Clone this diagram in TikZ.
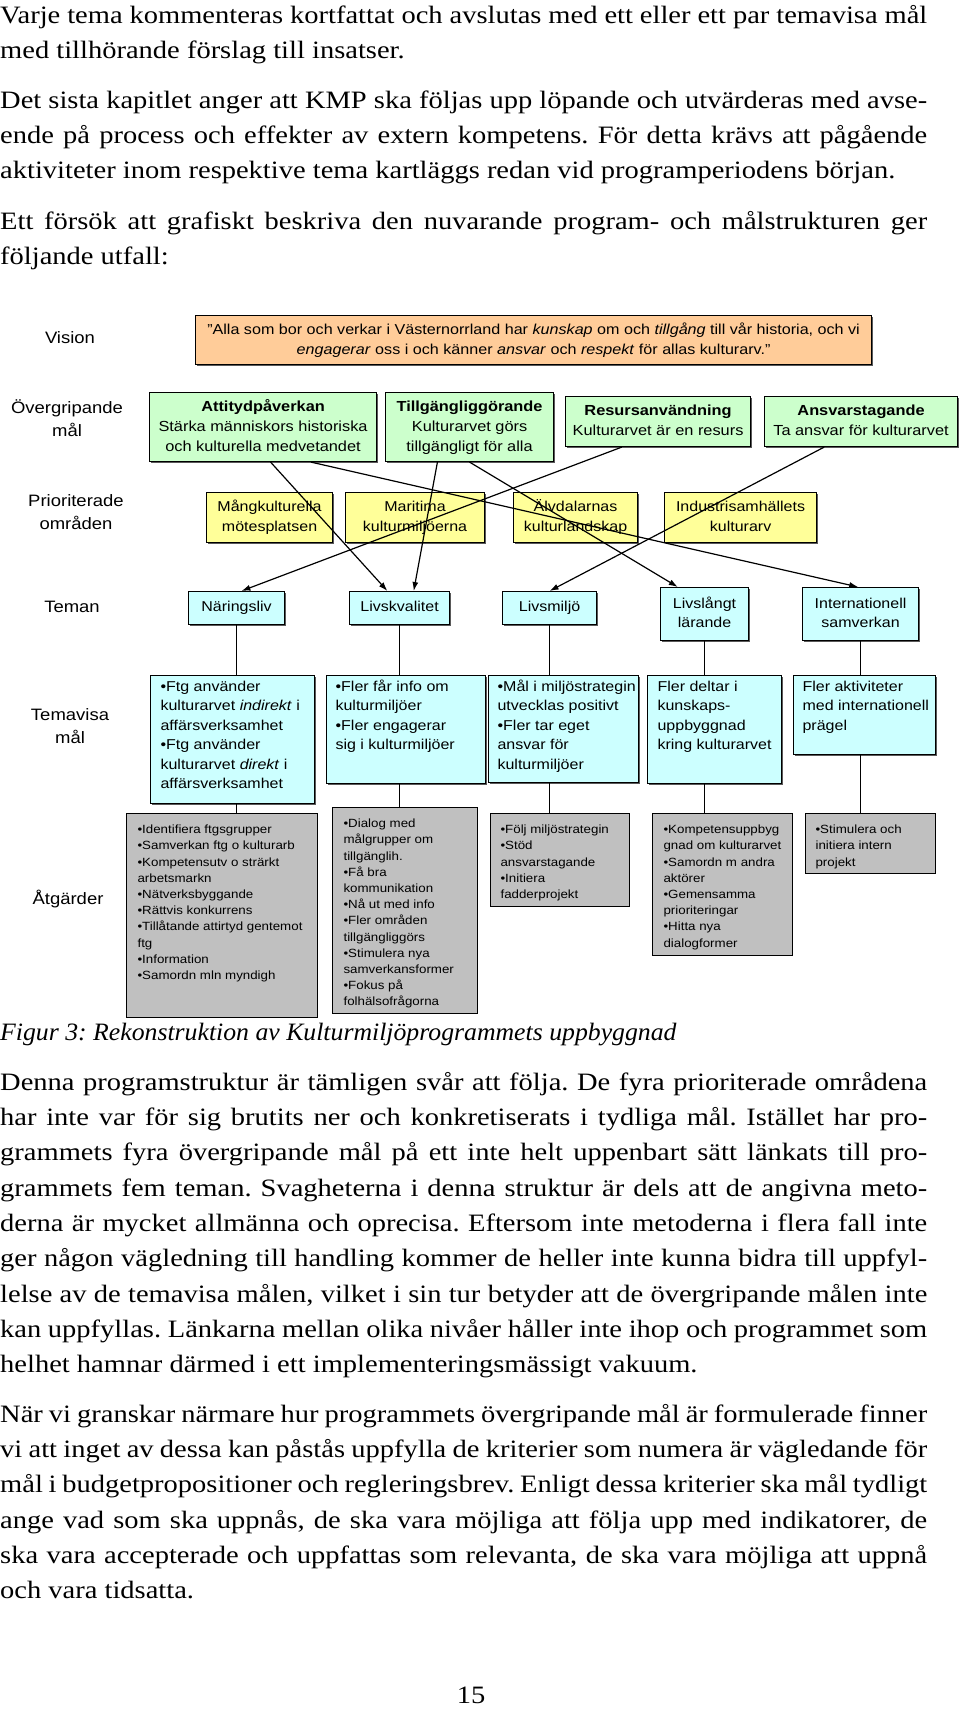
\documentclass[tikz,border=0pt]{standalone}
\usepackage{fontspec}
\setmainfont{Liberation Serif}
\newfontfamily\arialf{Liberation Sans}
\usetikzlibrary{arrows.meta,calc,shadows}
\definecolor{vis}{HTML}{FFCC99}
\definecolor{grn}{HTML}{CCFFCC}
\definecolor{yel}{HTML}{FFFF99}
\definecolor{cya}{HTML}{CCFFFF}
\definecolor{gry}{HTML}{C0C0C0}
\frenchspacing
\newcommand\bjl[1]{\scalebox{1.14}[1]{\makebox[813.2pt][s]{#1}}}
\newcommand\bll[1]{\scalebox{1.14}[1]{#1}}
\newcommand\capl[1]{\scalebox{1.03}[1]{#1}}
\newcommand\dct[1]{\scalebox{1.12}[1]{\begin{tabular}{@{}c@{}}#1\end{tabular}}}
\newcommand\dlt[1]{\scalebox{1.12}[1]{\begin{tabular}[t]{@{}l@{}}#1\end{tabular}}}
\newcommand\tlbox[5]{\parbox[c][#2][t]{#1}{\vspace*{#3}\noindent\hspace*{#4}\dlt{#5}}}
\begin{document}
\begin{tikzpicture}[x=1pt,y=-1pt,
 body/.style={anchor=base west,inner sep=0pt,font=\fontsize{25}{30}\selectfont},
 lab/.style={inner sep=0pt,font=\arialf\fontsize{16.5}{23}\selectfont},
 box/.style={draw=black,line width=1.1pt,anchor=north west,inner sep=0pt},
 shd/.style={drop shadow={shadow xshift=1.4pt,shadow yshift=-1.4pt,fill=black!65,opacity=1}},
 gfont/.style={font=\arialf\fontsize{14.6}{20}\selectfont},
 tfont/.style={font=\arialf\fontsize{14.3}{19.5}\selectfont},
 afont/.style={font=\arialf\fontsize{11.9}{16.2}\selectfont},
 conn/.style={draw=black,line width=1pt},
 arr/.style={draw=black,line width=1.2pt,-{Latex[length=9pt,width=6pt]}}]
\useasboundingbox[fill=white] (0,0) rectangle (960,1710);

% body text
\node[body] (b1) at (0,23.5) {\bjl{Varje tema kommenteras kortfattat och avslutas med ett eller ett par temavisa mål}};
\node[body] (b2) at (0,58.5) {\bll{med tillhörande förslag till insatser.}};
\node[body] (b3) at (0,108) {\bjl{Det sista kapitlet anger att KMP ska följas upp löpande och utvärderas med avse-}};
\node[body] (b4) at (0,143.3) {\bjl{ende på process och effekter av extern kompetens. För detta krävs att pågående}};
\node[body] (b5) at (0,178.6) {\bll{aktiviteter inom respektive tema kartläggs redan vid programperiodens början.}};
\node[body] (b6) at (0,229) {\bjl{Ett försök att grafiskt beskriva den nuvarande program- och målstrukturen ger}};
\node[body] (b7) at (0,264.3) {\bll{följande utfall:}};

\node[body,font=\itshape\fontsize{25}{30}\selectfont] (cap) at (0,1040) {\capl{Figur 3: Rekonstruktion av Kulturmiljöprogrammets uppbyggnad}};

\node[body] (c1) at (0,1090) {\bjl{Denna programstruktur är tämligen svår att följa. De fyra prioriterade områdena}};
\node[body] (c2) at (0,1125.35) {\bjl{har inte var för sig brutits ner och konkretiserats i tydliga mål. Istället har pro-}};
\node[body] (c3) at (0,1160.7) {\bjl{grammets fyra övergripande mål på ett inte helt uppenbart sätt länkats till pro-}};
\node[body] (c4) at (0,1196.05) {\bjl{grammets fem teman. Svagheterna i denna struktur är dels att de angivna meto-}};
\node[body] (c5) at (0,1231.4) {\bjl{derna är mycket allmänna och oprecisa. Eftersom inte metoderna i flera fall inte}};
\node[body] (c6) at (0,1266.75) {\bjl{ger någon vägledning till handling kommer de heller inte kunna bidra till uppfyl-}};
\node[body] (c7) at (0,1302.1) {\bjl{lelse av de temavisa målen, vilket i sin tur betyder att de övergripande målen inte}};
\node[body] (c8) at (0,1337.45) {\bjl{kan uppfyllas. Länkarna mellan olika nivåer håller inte ihop och programmet som}};
\node[body] (c9) at (0,1372.8) {\bll{helhet hamnar därmed i ett implementeringsmässigt vakuum.}};

\node[body] (d1) at (0,1422) {\bjl{När vi granskar närmare hur programmets övergripande mål är formulerade finner}};
\node[body] (d2) at (0,1457.35) {\bjl{vi att inget av dessa kan påstås uppfylla de kriterier som numera är vägledande för}};
\node[body] (d3) at (0,1492.7) {\bjl{mål i budgetpropositioner och regleringsbrev. Enligt dessa kriterier ska mål tydligt}};
\node[body] (d4) at (0,1528.05) {\bjl{ange vad som ska uppnås, de ska vara möjliga att följa upp med indikatorer, de}};
\node[body] (d5) at (0,1563.4) {\bjl{ska vara accepterade och uppfattas som relevanta, de ska vara möjliga att uppnå}};
\node[body] (d6) at (0,1598.75) {\bll{och vara tidsatta.}};

\node[body,anchor=base] (pnum) at (471,1703) {\bll{15}};

% row labels
\node[lab] (lvis) at (70,339) {\dct{Vision}};
\node[lab] (lover) at (67,420) {\dct{Övergripande\\mål}};
\node[lab] (lprio) at (76,513) {\dct{Prioriterade\\områden}};
\node[lab] (ltem) at (72,608) {\dct{Teman}};
\node[lab] (ltmal) at (70,727) {\dct{Temavisa\\mål}};
\node[lab] (latg) at (68,900) {\dct{Åtgärder}};

% vision
\node[box,shd,fill=vis,minimum width=676pt,minimum height=49pt,font=\arialf\fontsize{14.4}{20}\selectfont] (vision) at (195,315)
 {\dct{”Alla som bor och verkar i Västernorrland har \textit{kunskap} om och \textit{tillgång} till vår historia, och vi\\\textit{engagerar} oss i och känner \textit{ansvar} och \textit{respekt} för allas kulturarv.”}};

% overgripande mal
\node[box,shd,gfont,fill=grn,minimum width=227pt,minimum height=69pt] (att) at (149,392)
 {\dct{\textbf{Attitydpåverkan}\\Stärka människors historiska\\och kulturella medvetandet}};
\node[box,shd,gfont,fill=grn,minimum width=168pt,minimum height=69pt] (till) at (385,392)
 {\dct{\textbf{Tillgängliggörande}\\Kulturarvet görs\\tillgängligt för alla}};
\node[box,shd,gfont,fill=grn,minimum width=185pt,minimum height=50pt] (res) at (565,396)
 {\dct{\textbf{Resursanvändning}\\Kulturarvet är en resurs}};
\node[box,shd,gfont,fill=grn,minimum width=193pt,minimum height=50pt] (ans) at (764,396)
 {\dct{\textbf{Ansvarstagande}\\Ta ansvar för kulturarvet}};

% prioriterade omraden
\node[box,shd,tfont,fill=yel,minimum width=126pt,minimum height=50pt] (mang) at (206,492) {\dct{Mångkulturella\\mötesplatsen}};
\node[box,shd,tfont,fill=yel,minimum width=139pt,minimum height=50pt] (mari) at (345,492) {\dct{Maritima\\kulturmiljöerna}};
\node[box,shd,tfont,fill=yel,minimum width=124pt,minimum height=50pt] (alv) at (513,492) {\dct{Älvdalarnas\\kulturlandskap}};
\node[box,shd,tfont,fill=yel,minimum width=152pt,minimum height=50pt] (ind) at (664,492) {\dct{Industrisamhällets\\kulturarv}};

% teman
\node[box,shd,tfont,fill=cya,minimum width=96pt,minimum height=33pt] (nar) at (188,591) {\dct{Näringsliv}};
\node[box,shd,tfont,fill=cya,minimum width=100pt,minimum height=33pt] (lk) at (349,591) {\dct{Livskvalitet}};
\node[box,shd,tfont,fill=cya,minimum width=94pt,minimum height=33pt] (lm) at (502,591) {\dct{Livsmiljö}};
\node[box,shd,tfont,fill=cya,minimum width=88pt,minimum height=53pt] (ll) at (660,587) {\dct{Livslångt\\lärande}};
\node[box,shd,tfont,fill=cya,minimum width=116pt,minimum height=53pt] (intl) at (802,587) {\dct{Internationell\\samverkan}};

% temavisa mal
\node[box,shd,tfont,fill=cya] (tv1) at (150,675) {\tlbox{164pt}{128pt}{2pt}{10pt}{•Ftg använder\\kulturarvet \textit{indirekt} i\\affärsverksamhet\\•Ftg använder\\kulturarvet \textit{direkt} i\\affärsverksamhet}};
\node[box,shd,tfont,fill=cya] (tv2) at (326,675) {\tlbox{159pt}{108pt}{2pt}{9pt}{•Fler får info om\\kulturmiljöer\\•Fler engagerar\\sig i kulturmiljöer}};
\node[box,shd,tfont,fill=cya] (tv3) at (488,675) {\tlbox{150pt}{107pt}{2pt}{9pt}{•Mål i miljöstrategin\\utvecklas positivt\\•Fler tar eget\\ansvar för\\kulturmiljöer}};
\node[box,shd,tfont,fill=cya] (tv4) at (647,675) {\tlbox{134pt}{108pt}{2pt}{10pt}{Fler deltar i\\kunskaps-\\uppbyggnad\\kring kulturarvet}};
\node[box,shd,tfont,fill=cya] (tv5) at (793,675) {\tlbox{142pt}{79pt}{2pt}{9pt}{Fler aktiviteter\\med internationell\\prägel}};

% atgarder
\node[box,afont,fill=gry] (at1) at (126,813) {\tlbox{191pt}{204pt}{8.7pt}{11pt}{•Identifiera ftgsgrupper\\•Samverkan ftg o kulturarb\\•Kompetensutv o strärkt\\arbetsmarkn\\•Nätverksbyggande\\•Rättvis konkurrens\\•Tillåtande attirtyd gentemot\\ftg\\•Information\\•Samordn mln myndigh}};
\node[box,afont,fill=gry] (at2) at (332,807) {\tlbox{145pt}{206pt}{8.7pt}{11pt}{•Dialog med\\målgrupper om\\tillgänglih.\\•Få bra\\kommunikation\\•Nå ut med info\\•Fler områden\\tillgängliggörs\\•Stimulera nya\\samverkansformer\\•Fokus på\\folhälsofrågorna}};
\node[box,afont,fill=gry] (at3) at (490,813) {\tlbox{139pt}{93pt}{8.7pt}{10pt}{•Följ miljöstrategin\\•Stöd\\ansvarstagande\\•Initiera\\fadderprojekt}};
\node[box,afont,fill=gry] (at4) at (652,813) {\tlbox{140pt}{142pt}{8.7pt}{11pt}{•Kompetensuppbyg\\gnad om kulturarvet\\•Samordn m andra\\aktörer\\•Gemensamma\\prioriteringar\\•Hitta nya\\dialogformer}};
\node[box,afont,fill=gry] (at5) at (805,813) {\tlbox{130pt}{60pt}{8.7pt}{10pt}{•Stimulera och\\initiera intern\\projekt}};

% vertical connectors
\draw[conn] (nar.south) -- (nar.south |- tv1.north);
\draw[conn] (nar.south |- tv1.south) -- (nar.south |- at1.north);
\draw[conn] (lk.south) -- (lk.south |- tv2.north);
\draw[conn] (lk.south |- tv2.south) -- (lk.south |- at2.north);
\draw[conn] (lm.south) -- (lm.south |- tv3.north);
\draw[conn] (lm.south |- tv3.south) -- (lm.south |- at3.north);
\draw[conn] (ll.south) -- (ll.south |- tv4.north);
\draw[conn] (ll.south |- tv4.south) -- (ll.south |- at4.north);
\draw[conn] (intl.south) -- (intl.south |- tv5.north);
\draw[conn] (intl.south |- tv5.south) -- (intl.south |- at5.north);

% arrows
\draw[arr] ($(att.south west)!0.533!(att.south east)$) -- ($(lk.north west)!0.38!(lk.north east)$);
\draw[arr] ($(att.south west)!0.71!(att.south east)$) -- ($(intl.north west)!0.48!(intl.north east)$);
\draw[arr] ($(till.south west)!0.31!(till.south east)$) -- ($(lk.north west)!0.64!(lk.north east)$);
\draw[arr] ($(till.south west)!0.5!(till.south east)$) -- ($(ll.north west)!0.2!(ll.north east)$);
\draw[arr] ($(res.south west)!0.305!(res.south east)$) -- ($(nar.north west)!0.55!(nar.north east)$);
\draw[arr] ($(ans.south west)!0.31!(ans.south east)$) -- ($(lm.north west)!0.5!(lm.north east)$);
\end{tikzpicture}
\end{document}
